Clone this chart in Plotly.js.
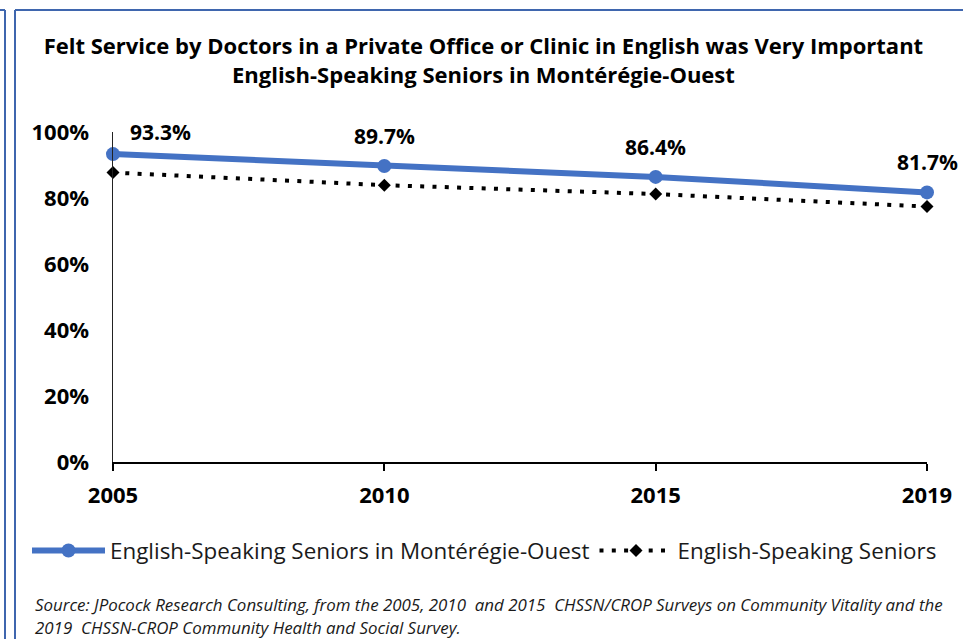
<!DOCTYPE html>
<html>
<head>
<meta charset="utf-8">
<script src="https://cdn.plot.ly/plotly-3.0.1.min.js"></script>
<style>
  html, body { margin: 0; padding: 0; background: #ffffff; }
  #chart { width: 963px; height: 639px; }
</style>
</head>
<body>
<div id="chart"></div>
<script>
// ---- data ----
const years = ["2005", "2010", "2015", "2019"];
const monteregieOuest = [0.933, 0.897, 0.864, 0.817];
const allSeniors = [0.877, 0.839, 0.812, 0.774];
const monteregieLabels = ["93.3%", "89.7%", "86.4%", "81.7%"];
const seriesNames = ["English-Speaking Seniors in Montérégie-Ouest", "English-Speaking Seniors"];
const yTickVals = [0, 0.2, 0.4, 0.6, 0.8, 1.0];
const yTickText = ["0%", "20%", "40%", "60%", "80%", "100%"];
const titleLines = [
  "Felt Service by Doctors in a Private Office or Clinic in English was Very Important",
  "English-Speaking Seniors in Montérégie-Ouest"
];
const sourceLines = [
  "Source: JPocock Research Consulting, from the 2005, 2010  and 2015  CHSSN/CROP Surveys on Community Vitality and the",
  "2019  CHSSN-CROP Community Health and Social Survey."
];

// ---- layout geometry ----
const W = 963, H = 639;
const M = { l: 113, r: 36, t: 132, b: 177 };
const plotW = W - M.l - M.r, plotH = H - M.t - M.b;
const px2x = p => (p - M.l) / plotW;
const px2y = p => (H - M.b - p) / plotH;

const FONT = "'Open Sans', Lato, sans-serif";
const BLUE = "#4472C4";
const FRAME = "#3F66AE";

const traces = [
  {
    x: years, y: monteregieOuest, name: seriesNames[0],
    type: "scatter", mode: "lines+markers",
    line: { color: BLUE, width: 6 },
    marker: { color: BLUE, size: 14 },
    cliponaxis: false, hoverinfo: "skip"
  },
  {
    x: years, y: allSeniors, name: seriesNames[1],
    type: "scatter", mode: "lines+markers",
    line: { color: "#000000", width: 4, dash: "4px,8.3px" },
    marker: { color: "#000000", size: 10, symbol: "diamond" },
    cliponaxis: false, hoverinfo: "skip"
  }
];

const annotations = years.map((yr, i) => ({
  x: i, y: monteregieOuest[i], xref: "x", yref: "y",
  text: monteregieLabels[i], showarrow: false,
  xshift: i === 0 ? 47 : 0, yshift: i === 0 ? 22 : 30,
  font: { family: FONT, size: 21, color: "#000000", weight: "bold" }
}));
sourceLines.forEach((t, i) => {
  annotations.push({
    x: px2x(33), y: px2y(604 + 23 * i), xref: "paper", yref: "paper",
    xanchor: "left", yanchor: "middle", text: "<i>" + t + "</i>",
    showarrow: false, align: "left",
    font: { family: FONT, size: 16.9, color: "#1a1a1a" }
  });
});

const frameLine = { color: FRAME, width: 2 };
const shapes = [
  { type: "line", xref: "paper", yref: "paper", x0: px2x(5), x1: px2x(5), y0: px2y(10), y1: px2y(H), line: frameLine },
  { type: "line", xref: "paper", yref: "paper", x0: px2x(0), x1: px2x(5), y0: px2y(10), y1: px2y(10), line: frameLine },
  { type: "line", xref: "paper", yref: "paper", x0: px2x(15), x1: px2x(15), y0: px2y(10), y1: px2y(H), line: frameLine },
  { type: "line", xref: "paper", yref: "paper", x0: px2x(15), x1: px2x(W), y0: px2y(10), y1: px2y(10), line: frameLine }
];

const layout = {
  width: W, height: H,
  margin: M,
  paper_bgcolor: "#ffffff", plot_bgcolor: "#ffffff",
  font: { family: FONT, color: "#000000" },
  showlegend: true,
  title: {
    text: titleLines.join("<br>"),
    font: { family: FONT, size: 22, color: "#000000", weight: "bold" },
    x: 0.502, xref: "container", xanchor: "center",
    y: 1 - 54 / H, yref: "container", yanchor: "middle"
  },
  xaxis: {
    type: "category", range: [0, 3],
    showgrid: false, zeroline: false,
    showline: true, linecolor: "#000000", linewidth: 2,
    ticks: "outside", ticklen: 7, tickwidth: 2, tickcolor: "#000000",
    ticklabelstandoff: 6,
    tickfont: { family: FONT, size: 22, color: "#000000", weight: "bold" },
    fixedrange: true
  },
  yaxis: {
    range: [0, 1],
    tickvals: yTickVals, ticktext: yTickText,
    showgrid: false, zeroline: false,
    showline: true, linecolor: "#222222", linewidth: 1.5,
    ticks: "", ticklabelstandoff: 18,
    tickfont: { family: FONT, size: 22, color: "#000000", weight: "bold" },
    fixedrange: true
  },
  legend: {
    orientation: "h", xref: "paper", yref: "paper",
    x: px2x(27), xanchor: "left", y: px2y(551), yanchor: "middle",
    font: { family: FONT, size: 22.4, color: "#1a1a1a" },
    itemwidth: 73, tracegroupgap: 0, bgcolor: "rgba(0,0,0,0)"
  },
  annotations: annotations,
  shapes: shapes
};

Plotly.newPlot("chart", traces, layout, { displayModeBar: false, staticPlot: true });
</script>
</body>
</html>
